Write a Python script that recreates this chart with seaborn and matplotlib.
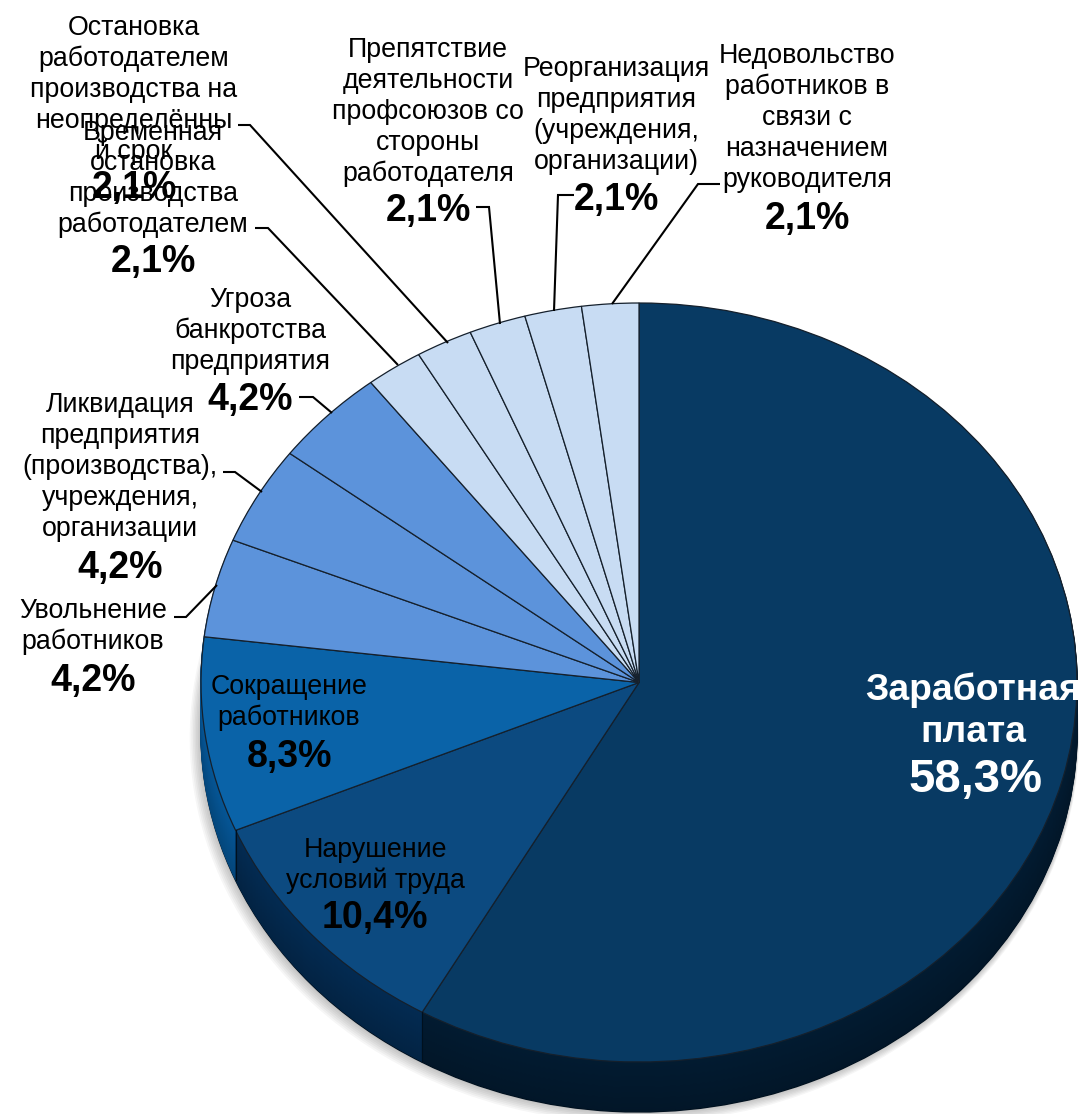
import matplotlib
matplotlib.use("Agg")
import matplotlib.pyplot as plt
import numpy as np
import seaborn as sns

# ---- data ----
categories = [
    "Заработная\nплата",
    "Нарушение\nусловий труда",
    "Сокращение\nработников",
    "Увольнение\nработников",
    "Ликвидация\nпредприятия\n(производства),\nучреждения,\nорганизации",
    "Угроза\nбанкротства\nпредприятия",
    "Временная\nостановка\nпроизводства\nработодателем",
    "Остановка\nработодателем\nпроизводства на\nнеопределённы\nй срок",
    "Препятствие\nдеятельности\nпрофсоюзов со\nстороны\nработодателя",
    "Реорганизация\nпредприятия\n(учреждения,\nорганизации)",
    "Недовольство\nработников в\nсвязи с\nназначением\nруководителя",
]
values = [58.3, 10.4, 8.3, 4.2, 4.2, 4.2, 2.1, 2.1, 2.1, 2.1, 2.1]
value_labels = ["58,3%", "10,4%", "8,3%", "4,2%", "4,2%", "4,2%", "2,1%", "2,1%", "2,1%", "2,1%", "2,1%"]
top_colors = ["#083A63", "#0C4A80", "#0A63A8", "#5C93DB", "#5C93DB", "#5C93DB",
              "#C8DCF3", "#C8DCF3", "#C8DCF3", "#C8DCF3", "#C8DCF3"]
side_colors = ["#021B31", "#032B52", "#055696", "#3A6AAA", "#3A6AAA", "#3A6AAA",
               "#90A8C4", "#90A8C4", "#90A8C4", "#90A8C4", "#90A8C4"]

# ---- layout (pixels of the 1082x1114 picture) ----
W, H = 1082, 1114
CX, CY, RX, RY = 639, 682.5, 438, 379.5
DEPTH = 50 / RY
# x centre of text, y of first line, y of the percent label, line step
text_layout = [
    (973, 686, 775, 43), (375, 847, 914, 31), (289, 684, 753, 31), (93, 608, 677, 31),
    (120, 402, 564, 31), (250, 297, 396, 31), (153, 130, 258, 30.5), (134, 25, 184, 31),
    (428, 47, 207, 31), (616, 66, 196, 31), (807, 53, 215, 31),
]
leaders = [
    [(720, 184), (698, 184), (612, 304)],
    [(574, 195), (558, 195), (554, 311)],
    [(476, 207), (489, 207), (500, 324)],
    [(238, 125), (250, 125), (448, 343)],
    [(255, 228), (268, 228), (398, 365)],
    [(299, 397), (313, 397), (332, 413)],
    [(223, 472), (235, 472), (262, 492)],
    [(174, 617), (186, 617), (217, 585)],
]

sns.set_theme(style="white")
plt.rcParams["font.family"] = ["Liberation Sans", "DejaVu Sans"]

fig = plt.figure(figsize=(W / 100, H / 100), dpi=100, facecolor="white")
ax = fig.add_axes([0, 0, 1, 1])


def darken(c, f):
    return tuple(np.array(matplotlib.colors.to_rgb(c)) * f)


# soft shadow
for k in range(7, 0, -1):
    ax.pie(values, startangle=90, counterclock=False, radius=1 + 0.0022 * k,
           center=(-0.003 * k / 2, -DEPTH - 0.002 * k), colors=["#000000"] * len(values),
           wedgeprops=dict(alpha=0.035, linewidth=0, edgecolor="none"))

# extruded wall, darkest at the bottom
n = 50
for i in range(n, 0, -1):
    f = 1 - 0.18 * i / n
    wedges, _ = ax.pie(values, startangle=90, counterclock=False, center=(0, -DEPTH * i / n),
                       colors=[darken(c, f) for c in side_colors],
                       wedgeprops=dict(linewidth=1.0))
    for w in wedges:
        w.set_edgecolor("#00101e" if i == n else w.get_facecolor())

# top surface
ax.pie(values, startangle=90, counterclock=False,
       colors=top_colors, wedgeprops=dict(edgecolor="#15202c", linewidth=0.9))

# wall edges at the visible slice boundaries
bounds = 90 - np.cumsum(values) / np.sum(values) * 360
for b in bounds[:2]:
    x0, y0 = np.cos(np.radians(b)), np.sin(np.radians(b))
    ax.plot([x0, x0], [y0, y0 - DEPTH], color="#00101e", lw=0.8, zorder=5)

ax.set_aspect("auto")
ax.set_xlim((0 - CX) / RX, (W - CX) / RX)
ax.set_ylim((CY - H) / RY, CY / RY)
ax.axis("off")

# overlay in picture pixels
ov = fig.add_axes([0, 0, 1, 1], facecolor="none")
ov.set_xlim(0, W)
ov.set_ylim(H, 0)
ov.axis("off")

for path in leaders:
    xs, ys = zip(*path)
    ov.plot(xs, ys, color="black", lw=1.5, solid_capstyle="butt", solid_joinstyle="miter")

for idx, (cat, val, (cx, y0, yp, step)) in enumerate(zip(categories, value_labels, text_layout)):
    is_main = idx == 0
    for j, line in enumerate(cat.split("\n")):
        ov.text(cx, y0 + j * step, line, ha="center", va="center_baseline",
                fontsize=26.8 if is_main else 19.3, fontweight="bold" if is_main else "normal",
                color="white" if is_main else "black")
    ov.text(cx + (2 if is_main else 0), yp, val, ha="center", va="center_baseline",
            fontsize=34 if is_main else 27, fontweight="bold",
            color="white" if is_main else "black")

fig.savefig("out.png", dpi=100, facecolor="white")
